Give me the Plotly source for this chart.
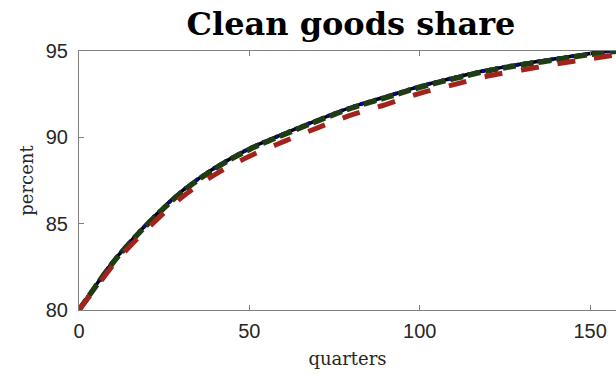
import plotly.graph_objects as go

quarters = [0, 5, 10, 15, 20, 30, 40, 50, 60, 70, 80, 90, 100, 110, 120, 130, 140, 150, 160]
black_solid = [80.0, 81.45, 82.8, 83.95, 85.0, 86.85, 88.25, 89.35, 90.2, 91.0, 91.75, 92.35, 92.95, 93.45, 93.9, 94.25, 94.55, 94.85, 95.1]
blue_dotted = [80.0, 81.45, 82.8, 83.95, 85.0, 86.85, 88.25, 89.35, 90.2, 91.0, 91.75, 92.35, 92.95, 93.45, 93.9, 94.25, 94.55, 94.85, 95.1]
green_dashed = [80.0, 81.4, 82.75, 83.9, 84.95, 86.8, 88.2, 89.3, 90.15, 90.95, 91.7, 92.3, 92.9, 93.4, 93.85, 94.2, 94.5, 94.8, 95.05]
red_dashed = [80.0, 81.3, 82.6, 83.7, 84.7, 86.5, 87.85, 88.9, 89.75, 90.55, 91.3, 91.9, 92.55, 93.05, 93.55, 93.9, 94.25, 94.55, 94.85]

x_ticks = [0, 50, 100, 150]
y_ticks = [80, 85, 90, 95]

fig = go.Figure()
fig.add_trace(go.Scatter(x=quarters, y=black_solid, mode="lines",
                         line=dict(color="#000000", width=3.5, shape="spline")))
fig.add_trace(go.Scatter(x=quarters, y=blue_dotted, mode="lines",
                         line=dict(color="#0a0a8c", width=4, dash="3px,4px", shape="spline")))
fig.add_trace(go.Scatter(x=quarters, y=green_dashed, mode="lines",
                         line=dict(color="#1e3d12", width=5.5, dash="13px,5px", shape="spline")))
fig.add_trace(go.Scatter(x=quarters, y=red_dashed, mode="lines",
                         line=dict(color="#a3231c", width=5, dash="18px,19px", shape="spline")))

axis_font = dict(family="Liberation Sans, Arial, sans-serif", size=20, color="#262626")
serif = "DejaVu Serif, Liberation Serif, serif"

fig.update_layout(
    width=616, height=374,
    margin=dict(l=79, r=0, t=51, b=64),
    paper_bgcolor="white", plot_bgcolor="white",
    showlegend=False,
    title=dict(text="<b>Clean goods share</b>", xref="container", yref="container",
               x=351 / 616, xanchor="center", y=1 - 24 / 374, yanchor="middle",
               font=dict(family=serif, size=32, color="#000000")),
    xaxis=dict(range=[0, 157.6], tickvals=x_ticks, ticks="inside", ticklen=5,
               tickcolor="#808080", showline=True, linecolor="#808080", linewidth=1,
               mirror="ticks", showgrid=False, zeroline=False, tickfont=axis_font,
               ticklabelstandoff=3,
               title=dict(text="quarters", font=dict(family=serif, size=18, color="#262626"),
                          standoff=11)),
    yaxis=dict(range=[80, 95], tickvals=y_ticks, ticks="inside", ticklen=5,
               tickcolor="#808080", showline=True, linecolor="#808080", linewidth=1,
               mirror=False, showgrid=False, zeroline=False, tickfont=axis_font,
               ticklabelstandoff=6,
               title=dict(text="percent", font=dict(family=serif, size=18, color="#262626"),
                          standoff=7)),
)

fig.write_html("out.html")
